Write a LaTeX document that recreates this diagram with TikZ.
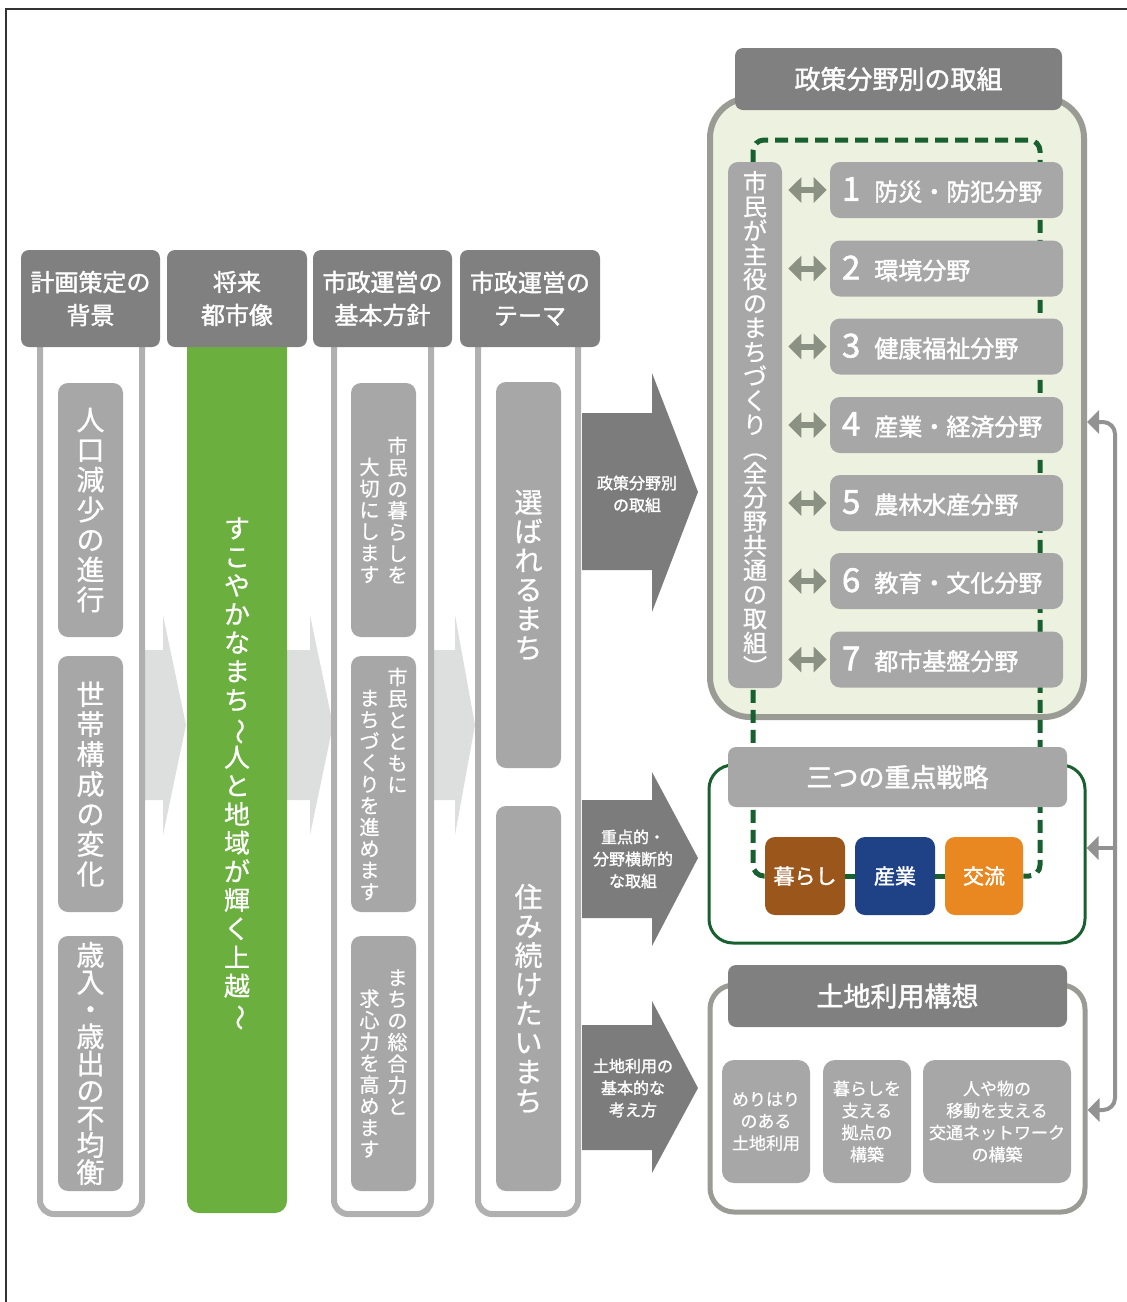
\documentclass[tikz,border=0pt]{standalone}
\usepackage{fontspec}
\setmainfont{Noto Sans CJK JP}[FakeBold=0.7]
\newfontfamily\heavy{Noto Sans CJK JP}[FakeBold=1.6]
\usepackage{graphicx}
\usetikzlibrary{arrows.meta}

\definecolor{hdrGray}{RGB}{128,128,128}
\definecolor{boxGray}{RGB}{167,167,167}
\definecolor{frameGray}{RGB}{176,176,176}
\definecolor{cityGreen}{RGB}{107,176,62}
\definecolor{paleGreen}{RGB}{237,242,224}
\definecolor{panelGray}{RGB}{153,155,148}
\definecolor{loopGreen}{RGB}{24,96,48}
\definecolor{flowGray}{RGB}{221,222,222}
\definecolor{darkArrow}{RGB}{124,124,124}
\definecolor{dblGray}{RGB}{139,145,131}
\definecolor{fbGray}{RGB}{146,146,146}
\definecolor{kurashiBrown}{RGB}{155,86,28}
\definecolor{sangyoBlue}{RGB}{31,66,134}
\definecolor{koryuOrange}{RGB}{233,135,33}

% vertical (tategaki) text: one character per line
\makeatletter
\newcommand\tate[2]{\vtop{\baselineskip=#1em\lineskiplimit=-2em\lineskip=0pt\tate@#2\@nil}}
\def\tate@#1{\ifx\@nil#1\else\hbox to 1em{\hss#1\hss}\expandafter\tate@\fi}
\makeatother
\newcommand\vrot[1]{\rotatebox[origin=c]{-90}{#1}}
\newcommand\fnum[1]{{\fontsize{16.5}{16.5}\selectfont#1}\hspace{7pt}}

\pgfdeclarelayer{back}
\pgfdeclarelayer{mid}
\pgfsetlayers{back,mid,main}

\begin{document}
\begin{tikzpicture}[x=0.5pt,y=-0.5pt,
  hdrbox/.style={fill=hdrGray, rounded corners=4pt, inner sep=0pt, text=white, align=center},
  itembox/.style={fill=boxGray, rounded corners=5pt, inner sep=0pt, text=white},
  colframe/.style={draw=frameGray, line width=3pt, fill=white, rounded corners=7pt},
  fieldbox/.style={fill=boxGray, rounded corners=5pt, minimum width=116.5pt, minimum height=28pt, text width=104.5pt, inner xsep=6pt, inner ysep=0pt, align=left, text=white, font=\heavy\fontsize{12}{14}\selectfont},
  stratbox/.style={rounded corners=5pt, minimum width=40pt, minimum height=39pt, inner sep=0pt, text=white, font=\heavy\fontsize{10.5}{12}\selectfont},
  landbox/.style={fill=boxGray, rounded corners=6pt, minimum height=61.5pt, inner sep=0pt, text=white, align=center, font=\fontsize{8.5}{11}\selectfont},
  arrowlabel/.style={text=white, align=center, font=\heavy\fontsize{8}{11}\selectfont},
  dblarrow/.style={draw=dblGray, line width=3pt, >={Triangle[length=6.5pt,width=12.5pt]}, <->, shorten <=3pt, shorten >=1.5pt},
  loopline/.style={draw=loopGreen, line width=2.5pt, dash pattern=on 6.5pt off 3.5pt},
  loopsolid/.style={draw=loopGreen, line width=2.5pt},
  fbline/.style={draw=fbGray, line width=2pt, >={Triangle[length=6pt,width=11.5pt]}, ->}
]
\useasboundingbox (0,0) rectangle (1127,1302);

% outer frame
\draw[black!80, line width=1pt] (6,1302) -- (6,9) -- (1127,9);

% light flow arrows between the columns
\fill[flowGray] (120,650) -- (163,650) -- (163,615) -- (186,725) -- (163,835) -- (163,800) -- (120,800) -- cycle;
\fill[flowGray] (270,650) -- (310,650) -- (310,615) -- (333,725) -- (310,835) -- (310,800) -- (270,800) -- cycle;
\fill[flowGray] (420,650) -- (455,650) -- (455,615) -- (475,725) -- (455,835) -- (455,800) -- (420,800) -- cycle;

% column frames
\draw[colframe] (40,330) rectangle (142,1214);
\draw[colframe] (334,330) rectangle (431,1214);
\draw[colframe] (478,330) rectangle (578,1214);

% future city image
\node[fill=cityGreen, rounded corners=6pt, minimum width=50pt, minimum height=439pt, inner sep=0pt, text=white, font=\fontsize{13}{13}\selectfont] (vision) at (237,774) {\tate{1.1}{すこやかなまち{\vrot{～}}人と地域が輝く上越{\vrot{～}}}};

% column headers
\node[hdrbox, minimum width=69.5pt, minimum height=48.5pt, font=\heavy\fontsize{12}{16.5}\selectfont] (hbg) at (90.5,298.5) {計画策定の\\背景};
\node[hdrbox, minimum width=70pt, minimum height=48.5pt, font=\heavy\fontsize{12}{16.5}\selectfont] (hvis) at (237,298.5) {将来\\都市像};
\node[hdrbox, minimum width=69.5pt, minimum height=48.5pt, font=\heavy\fontsize{12}{16.5}\selectfont] (hbp) at (382.5,298.5) {市政運営の\\基本方針};
\node[hdrbox, minimum width=70pt, minimum height=48.5pt, font=\heavy\fontsize{12}{16.5}\selectfont] (hth) at (530,298.5) {市政運営の\\テーマ};

% background items
\node[itembox, minimum width=32.5pt, minimum height=127pt, font=\fontsize{14}{14}\selectfont] (bg1) at (90.5,510) {\tate{1.07}{人口減少の進行}};
\node[itembox, minimum width=32.5pt, minimum height=128pt, font=\fontsize{14}{14}\selectfont] (bg2) at (90.5,784) {\tate{1.07}{世帯構成の変化}};
\node[itembox, minimum width=32.5pt, minimum height=127.5pt, font=\fontsize{14}{14}\selectfont] (bg3) at (90.5,1063.5) {\tate{0.97}{歳入・歳出の不均衡}};

% basic policy items
\node[itembox, minimum width=32.5pt, minimum height=127pt, font=\fontsize{10}{10}\selectfont] (bp1) at (383.5,510) {\lower1.05em\tate{1.075}{大切にします}\hspace{0.4em}\tate{1.075}{市民の暮らしを}};
\node[itembox, minimum width=32.5pt, minimum height=128pt, font=\fontsize{10}{10}\selectfont] (bp2) at (383.5,784) {\lower1.05em\tate{1.075}{まちづくりを進めます}\hspace{0.4em}\tate{1.075}{市民とともに}};
\node[itembox, minimum width=32.5pt, minimum height=127.5pt, font=\fontsize{10}{10}\selectfont] (bp3) at (383.5,1063.5) {\lower1.05em\tate{1.075}{求心力を高めます}\hspace{0.4em}\tate{1.075}{まちの総合力と}};

% theme items
\node[itembox, minimum width=32.5pt, minimum height=193pt, font=\fontsize{14}{14}\selectfont] (th1) at (528.5,575) {\tate{1.04}{選ばれるまち}};
\node[itembox, minimum width=32.5pt, minimum height=192.5pt, font=\fontsize{14}{14}\selectfont] (th2) at (528.5,998.5) {\tate{1.04}{住み続けたいまち}};

% dark arrows to the right
\fill[darkArrow] (582,413) -- (652,413) -- (652,373) -- (698,492) -- (652,612) -- (652,570) -- (582,570) -- cycle;
\fill[darkArrow] (582,800) -- (652,800) -- (652,772) -- (698,858) -- (652,946) -- (652,918) -- (582,918) -- cycle;
\fill[darkArrow] (582,1025) -- (652,1025) -- (652,1001) -- (698,1088) -- (652,1173) -- (652,1150) -- (582,1150) -- cycle;
\node[arrowlabel] (lbl1) at (637,494) {政策分野別\\の取組};
\node[arrowlabel] (lbl2) at (633,859) {重点的・\\分野横断的\\な取組};
\node[arrowlabel] (lbl3) at (633,1088) {土地利用の\\基本的な\\考え方};

% right panels
\begin{pgfonlayer}{back}
\node[draw=panelGray, line width=3pt, fill=paleGreen, rounded corners=20pt, minimum width=187pt, minimum height=309.5pt] (pol) at (897,407.5) {};
\node[draw=loopGreen, line width=1.5pt, fill=white, rounded corners=12pt, minimum width=188pt, minimum height=89pt] (str) at (897,854) {};
\node[draw=panelGray, line width=2.5pt, fill=white, rounded corners=12pt, minimum width=187.5pt, minimum height=113.5pt] (land) at (897.5,1098.5) {};
\end{pgfonlayer}

% policy fields
\node[hdrbox, minimum width=163.5pt, minimum height=31pt, font=\heavy\fontsize{13}{13}\selectfont] (polhdr) at (898.5,79) {政策分野別の取組};
\node[itembox, minimum width=27pt, minimum height=263pt, font=\fontsize{12}{12}\selectfont] (civic) at (755,425) {\tate{1.01}{市民が主役のまちづくり{\vrot{（}}全分野共通の取組{\vrot{）}}}};
\node[fieldbox] (f1) at (946.5,190) {\fnum{1}防災・防犯分野};
\node[fieldbox] (f2) at (946.5,268.5) {\fnum{2}環境分野};
\node[fieldbox] (f3) at (946.5,346.5) {\fnum{3}健康福祉分野};
\node[fieldbox] (f4) at (946.5,425) {\fnum{4}産業・経済分野};
\node[fieldbox] (f5) at (946.5,503) {\fnum{5}農林水産分野};
\node[fieldbox] (f6) at (946.5,581) {\fnum{6}教育・文化分野};
\node[fieldbox] (f7) at (946.5,659.5) {\fnum{7}都市基盤分野};
\draw[dblarrow] (civic.east |- f1) -- (f1.west);
\draw[dblarrow] (civic.east |- f2) -- (f2.west);
\draw[dblarrow] (civic.east |- f3) -- (f3.west);
\draw[dblarrow] (civic.east |- f4) -- (f4.west);
\draw[dblarrow] (civic.east |- f5) -- (f5.west);
\draw[dblarrow] (civic.east |- f6) -- (f6.west);
\draw[dblarrow] (civic.east |- f7) -- (f7.west);

% three key strategies
\node[hdrbox, fill=boxGray, minimum width=169.5pt, minimum height=30pt, font=\heavy\fontsize{13}{13}\selectfont] (strhdr) at (897.5,777) {三つの重点戦略};
\node[stratbox, fill=kurashiBrown] (kurashi) at (805,876) {暮らし};
\node[stratbox, fill=sangyoBlue] (sangyo) at (895,876) {産業};
\node[stratbox, fill=koryuOrange, minimum width=39pt] (koryu) at (984,876) {交流};
\draw[loopsolid] (kurashi) -- (sangyo);
\draw[loopsolid] (sangyo) -- (koryu);

% dashed loop round the fields
\coordinate (lpTL) at (753,140);
\coordinate (lpTR) at (1040,140);
\begin{pgfonlayer}{mid}
\draw[loopline, rounded corners=5.5pt] (kurashi.west) -| (lpTL) -- (lpTR) |- (koryu.east);
\end{pgfonlayer}

% land use
\node[hdrbox, minimum width=169.5pt, minimum height=31pt, font=\heavy\fontsize{13.5}{13.5}\selectfont] (landhdr) at (897.5,996) {土地利用構想};
\node[landbox, minimum width=44pt] (landA) at (766,1121.5) {めりはり\\のある\\土地利用};
\node[landbox, minimum width=44pt] (landB) at (867,1121.5) {暮らしを\\支える\\拠点の\\構築};
\node[landbox, minimum width=74pt] (landC) at (997,1121.5) {人や物の\\移動を支える\\交通ネットワーク\\の構築};

% feedback line
\coordinate (fbmid) at (1115,848);
\coordinate (fbtop) at (1115,422);
\coordinate (fbbot) at (1115,1110);
\draw[fbline, rounded corners=6pt] (fbmid) -- (fbtop) -- (pol.east |- fbtop);
\draw[fbline, rounded corners=6pt] (fbmid) -- (fbbot) -- (land.east |- fbbot);
\draw[fbline] (fbmid) -- (str.east |- fbmid);
\end{tikzpicture}
\end{document}
